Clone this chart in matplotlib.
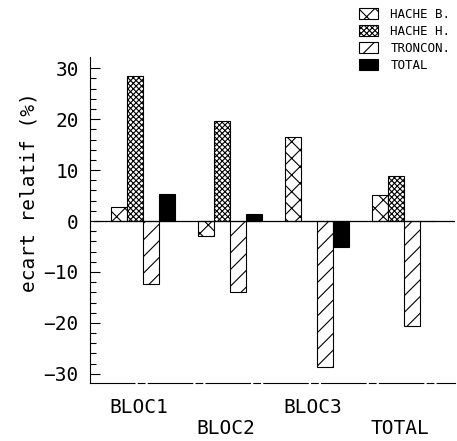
import numpy as np
import matplotlib
matplotlib.use("Agg")
import matplotlib.pyplot as plt
from matplotlib.patches import Patch

# values (ecart relatif, %)
groups = ["BLOC1", "BLOC2", "BLOC3", "TOTAL"]
series = ["HACHE B.", "HACHE H.", "TRONCON.", "TOTAL"]
hache_b = [2.7, -2.9, 16.4, 5.1]
hache_h = [28.4, 19.6, 0.1, 8.8]
troncon = [-12.4, -14.0, -28.6, -20.6]
total = [5.3, 1.4, -5.1, 0.0]

plt.rcParams['font.family'] = ['DejaVu Sans Mono']
plt.rcParams['hatch.linewidth'] = 0.8

fig = plt.figure(figsize=(4.57, 4.41), dpi=100)
ax = fig.add_axes([90 / 457, 58 / 441, 365 / 457, 326 / 441])

x = np.arange(len(groups))
w = 0.184
styles = [
    dict(facecolor="white", hatch="xx"),
    dict(facecolor="white", hatch="xxxxxx"),
    dict(facecolor="white", hatch="//"),
    dict(facecolor="black", hatch=None),
]
data = [hache_b, hache_h, troncon, total]
for i, (vals, st) in enumerate(zip(data, styles)):
    ax.bar(x + (i - 1.5) * w, vals, w, edgecolor="black", linewidth=0.8, **st)

ax.hlines(0, -0.57, 3.6, color="black", linewidth=0.9)

ax.set_xlim(-0.61, 3.59)
ax.set_ylim(-31.8, 32.2)

for s in ["top", "right"]:
    ax.spines[s].set_visible(False)
ax.spines["left"].set_linewidth(0.8)
ax.spines["bottom"].set_linewidth(0.8)
ax.spines["bottom"].set_linestyle((0, (40, 3, 6, 3)))

ax.set_yticks(np.arange(-30, 31, 10))
ax.set_yticks(np.arange(-30, 31, 2), minor=True)
ax.tick_params(axis="y", which="major", direction="in", length=7, width=0.8,
               labelsize=14, pad=8)
ax.tick_params(axis="y", which="minor", direction="in", length=4, width=0.8)

labels = [g if k % 2 == 0 else "\n" + g for k, g in enumerate(groups)]
ax.set_xticks(x - 0.05)
ax.set_xticklabels(labels, fontsize=14, linespacing=1.1)
ax.tick_params(axis="x", length=0, pad=11)

ax.set_ylabel("ecart relatif (%)", fontsize=14)
ax.yaxis.set_label_coords(-0.142, 0.586)

handles = [Patch(edgecolor="black", linewidth=0.8, **st) for st in styles]
fig.legend(handles, series, loc="upper left", bbox_to_anchor=(348 / 457, 1.007),
           frameon=False, fontsize=9, handlelength=1.5, handleheight=1.0,
           labelspacing=0.32, handletextpad=1.0)

fig.savefig("out.png", dpi=100)
